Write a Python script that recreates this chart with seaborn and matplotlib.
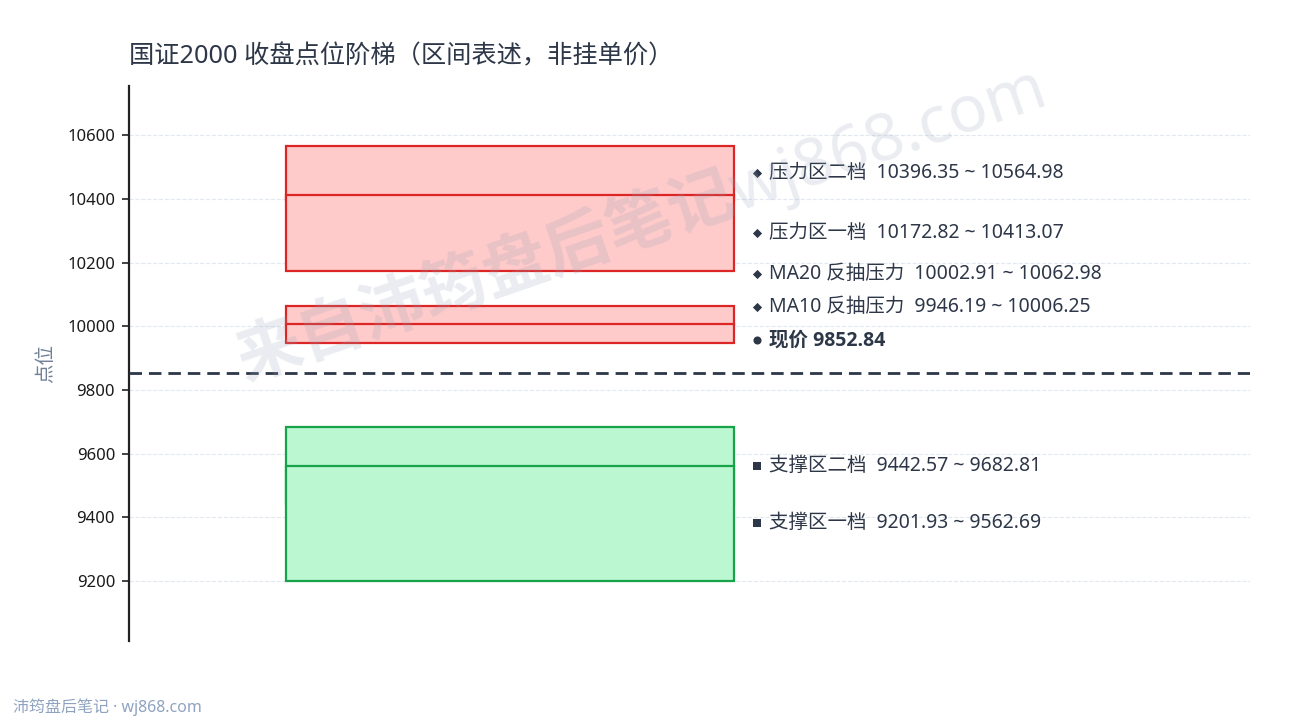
import numpy as np
import pandas as pd
import seaborn as sns
import matplotlib.pyplot as plt

# zone data (points)
zone_names = ['压力区二档', '压力区一档', 'MA20 反抽压力', 'MA10 反抽压力', '支撑区二档', '支撑区一档']
zone_low = [10396.35, 10172.82, 10002.91, 9946.19, 9442.57, 9201.93]
zone_high = [10564.98, 10413.07, 10062.98, 10006.25, 9682.81, 9562.69]
zone_kind = ['压力', '压力', '压力', '压力', '支撑', '支撑']
price_now = 9852.84
yticks = [9200, 9400, 9600, 9800, 10000, 10200, 10400, 10600]

df = pd.DataFrame({'name': zone_names, 'low': zone_low, 'high': zone_high, 'kind': zone_kind})
df['mid'] = (df['low'] + df['high']) / 2

sns.set_theme(style='white')
plt.rcParams['font.family'] = ['Noto Sans', 'Noto Sans CJK SC', 'DejaVu Sans']
plt.rcParams['axes.unicode_minus'] = False

fig = plt.figure(figsize=(12.9, 7.2), dpi=100)
ax = fig.add_axes([0.1, 0.1097, 0.869, 0.771])

fills = {'压力': '#fecaca', '支撑': '#bbf7d0'}
edges = {'压力': '#dc2626', '支撑': '#16a34a'}
marks = {'压力': 'D', '支撑': 's'}
msize = {'压力': 22, '支撑': 38}

# rectangles: draw in listed order so the lower tier sits on top
for _, r in df.iterrows():
    ax.bar(0.34, r['high'] - r['low'], bottom=r['low'], width=0.40,
           color=fills[r['kind']], edgecolor=edges[r['kind']], linewidth=1.6, zorder=3)

# current price line
ax.axhline(price_now, color='#2d3748', lw=2.0, linestyle=(0, (4.5, 2.5)), zorder=4)

# label positions: pressure side stacked upward from the price label with a minimum gap
gap = 104
lab_x = 0.560
txt_kw = dict(fontsize=14, color='#2d3748', va='center', ha='left', zorder=6,
              textcoords='offset points', xytext=(8.5, 0))
labels = [('o', 34, price_now + gap, '现价 %.2f' % price_now, 'bold')]
prev = price_now + gap
press = df[df['kind'] == '压力'].sort_values('mid')
for _, r in press.iterrows():
    y = max(r['mid'], prev + gap)
    prev = y
    labels.append((marks['压力'], msize['压力'], y,
                   '%s  %.2f ~ %.2f' % (r['name'], r['low'], r['high']), 'normal'))
for _, r in df[df['kind'] == '支撑'].iterrows():
    labels.append((marks['支撑'], msize['支撑'], r['mid'],
                   '%s  %.2f ~ %.2f' % (r['name'], r['low'], r['high']), 'normal'))

for m, s, y, t, w in labels:
    ax.scatter([lab_x], [y], marker=m, s=s, color='#2d3748', linewidths=0, zorder=6, clip_on=False)
    fam = ['Open Sans', 'Noto Sans CJK SC'] if w == 'bold' else ['Noto Sans', 'Noto Sans CJK SC']
    ax.annotate(t, (lab_x, y), fontweight=w, family=fam, **txt_kw)

pad = 190
ax.set_ylim(min(zone_low) - pad, max(zone_high) + pad)
ax.set_xlim(0, 1)
ax.set_yticks(yticks)
ax.set_yticklabels([str(t) for t in yticks], fontsize=12, color='#1a1a1a')
ax.set_xticks([])
ax.tick_params(axis='y', length=5, width=1.2, color='#222222', left=True, pad=5)
ax.grid(axis='y', color='#e2e8f0', linestyle='--', linewidth=0.8, zorder=0)
ax.set_axisbelow(True)
for s in ['top', 'right', 'bottom']:
    ax.spines[s].set_visible(False)
ax.spines['left'].set_color('#222222')
ax.spines['left'].set_linewidth(1.6)
ax.set_ylabel('点位', fontsize=14, color='#718096', labelpad=8)

fig.text(0.1, 0.921, '国证2000 收盘点位阶梯（区间表述，非挂单价）', fontsize=18.2, color='#2d3748', ha='left', va='center')

# watermark
fig.text(0.497, 0.69, '来自沛筠盘后笔记wj868.com', fontsize=47, fontweight='bold', color='#94a3b8',
         alpha=0.2, rotation=19, ha='center', va='center', zorder=10)

fig.text(0.01, 0.018, '沛筠盘后笔记 · wj868.com', fontsize=11.5, color='#8fa3c0', ha='left', va='center')

fig.savefig('out.png', dpi=100, facecolor='white')
